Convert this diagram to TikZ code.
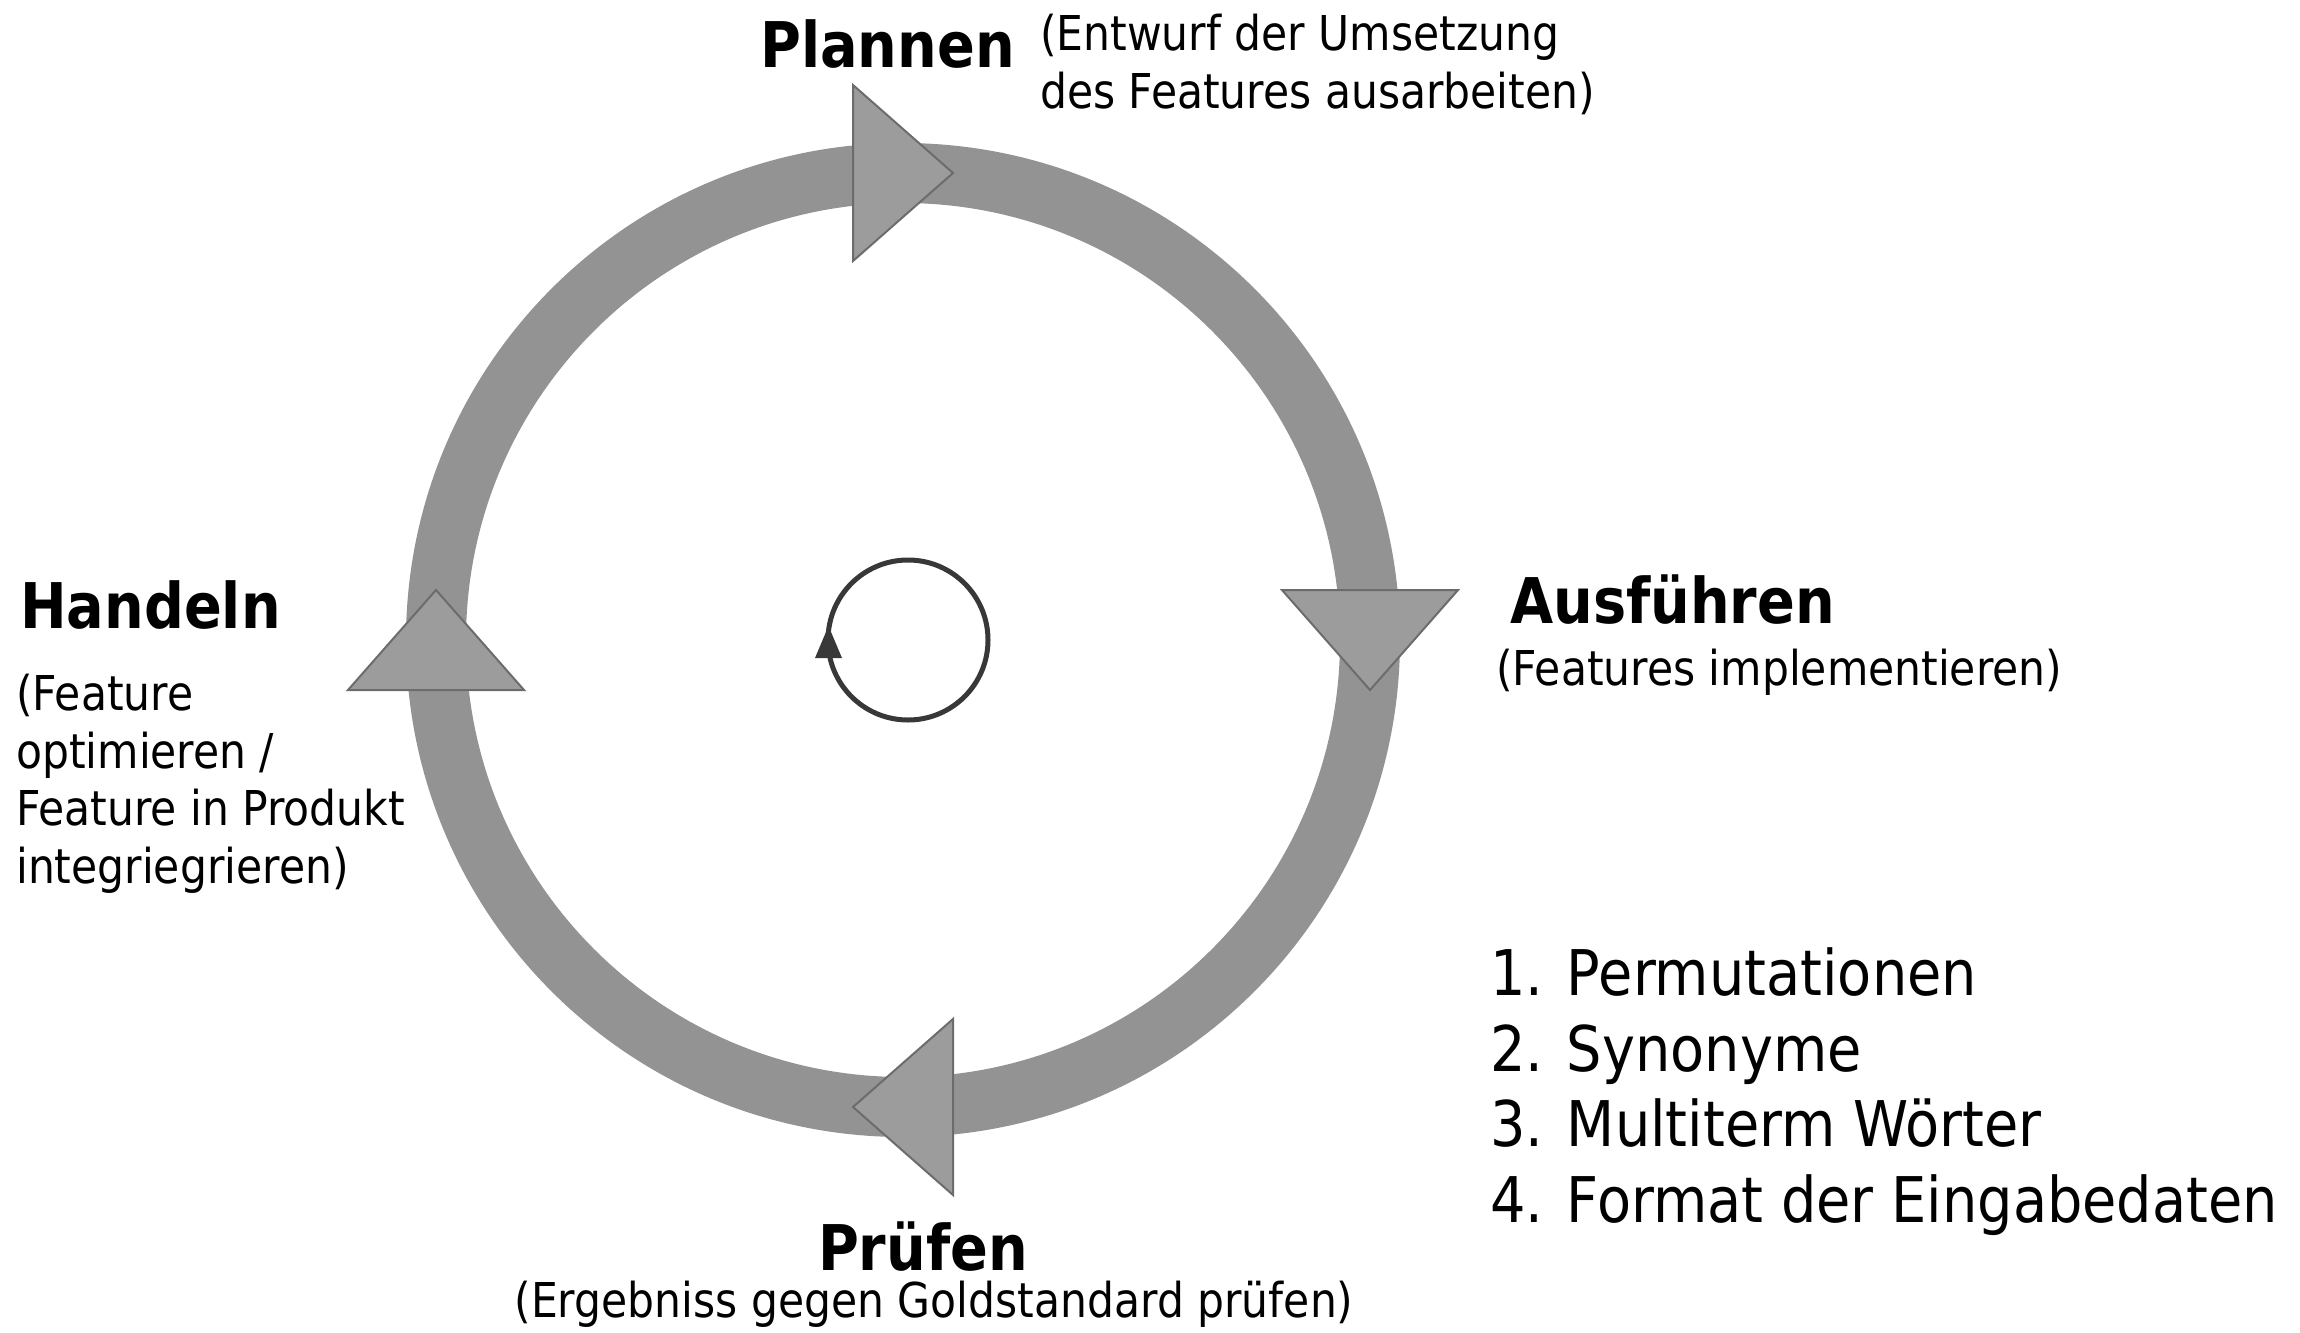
\documentclass[tikz,border=0pt]{standalone}
\usepackage{fontspec}
\setmainfont{DejaVu Sans}[FakeStretch=0.885]
\usetikzlibrary{arrows.meta,positioning,calc}
\definecolor{ringgray}{RGB}{147,147,147}
\definecolor{headgray}{RGB}{156,156,156}
\definecolor{headline}{RGB}{108,108,108}
\definecolor{loopgray}{RGB}{56,56,56}

\begin{document}
\begin{tikzpicture}[x=1pt,y=-1pt,
    title/.style={inner sep=0pt,font=\fontsize{63}{70}\selectfont\bfseries},
    note/.style={inner sep=0pt,align=left,font=\fontsize{48}{57.5}\selectfont},
    head/.style={fill=headgray,draw=headline,line width=2pt}]
    \useasboundingbox (0,0) rectangle (2300,1333);
    \coordinate (center) at (903,640);
    \path [draw=ringgray,line width=60pt] (center) circle [radius=467];
    \coordinate (top) at ($(center)+(0,-467)$);
    \coordinate (right) at ($(center)+(467,0)$);
    \coordinate (bottom) at ($(center)+(0,467)$);
    \coordinate (left) at ($(center)+(-467,0)$);
    \path [head] ($(top)+(-50,-88)$) -- ++(100,88) -- ++(-100,88) -- cycle;
    \path [head] ($(right)+(-88,-50)$) -- ++(176,0) -- ++(-88,100) -- cycle;
    \path [head] ($(bottom)+(50,-88)$) -- ++(-100,88) -- ++(100,88) -- cycle;
    \path [head] ($(left)+(-88,50)$) -- ++(176,0) -- ++(-88,-100) -- cycle;
    \coordinate (loop) at (908,640);
    \path [draw=loopgray,line width=5pt] (loop) circle [radius=80];
    \path [fill=loopgray] ($(loop)+(-93,18)$) -- ++(27,0) -- ++(-13.5,-32) -- cycle;
    \node (plannen) at (760,67) [title,anchor=base west] {Plannen};
    \node (plannentext) at (1040,108) [note,anchor=base west] {(Entwurf der Umsetzung\\des Features ausarbeiten)};
    \node (ausfuehren) at (1510,623) [title,anchor=base west] {Ausführen};
    \node (ausfuehrentext) at (1496,685) [note,anchor=base west] {(Features implementieren)};
    \node (handeln) at (20,628) [title,anchor=base west] {Handeln};
    \node (handelntext) at (16,883) [note,anchor=base west] {(Feature\\optimieren /\\Feature in Produkt\\integriegrieren)};
    \node (pruefen) at (923,1270) [title,anchor=base] {Prüfen};
    \node (pruefentext) at (934,1317) [note,anchor=base] {(Ergebniss gegen Goldstandard prüfen)};
    \node (liste) at (1490,1222) [inner sep=0pt,anchor=base west,align=left,font=\fontsize{63}{75.5}\selectfont] {1. Permutationen\\2. Synonyme\\3. Multiterm Wörter\\4. Format der Eingabedaten};
\end{tikzpicture}
\end{document}
